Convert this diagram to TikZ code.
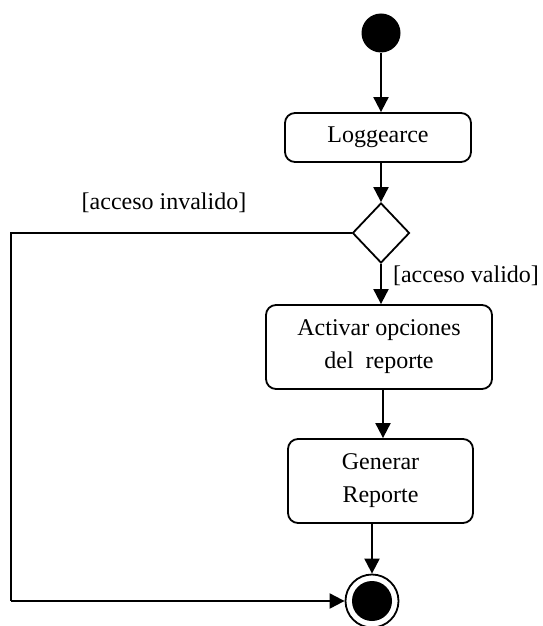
\documentclass[tikz,border=0pt]{standalone}
\usepackage{fontspec}
\setmainfont{Liberation Serif}
\usetikzlibrary{shapes.geometric,arrows.meta}
\begin{document}
\begin{tikzpicture}[x=0.5pt,y=-0.5pt,
  every node/.style={font=\fontsize{12}{16.5}\selectfont},
  actbox/.style={draw,rounded corners=5pt,line width=0.9pt,align=center,inner sep=0pt},
  flow/.style={line width=1pt,-{Triangle[length=7.5pt,width=7.5pt]}},
  plain/.style={line width=1pt}]
\useasboundingbox (0,0) rectangle (542,626);
\node[circle,fill=black,inner sep=0pt,minimum size=19.5pt] (start) at (381,33) {};
\node[actbox,minimum width=93pt,minimum height=24.5pt] (log) at (378,137.5) {Loggearce};
\node[diamond,draw,line width=0.9pt,inner sep=0pt,minimum width=28.5pt,minimum height=30pt] (dec) at (381,233) {};
\node[actbox,minimum width=113pt,minimum height=42pt] (act) at (379,347) {Activar opciones\\del~ reporte};
\node[actbox,minimum width=92.5pt,minimum height=42pt] (gen) at (380.5,481) {Generar\\Reporte};
\node[circle,draw,line width=0.9pt,fill=white,inner sep=0pt,minimum size=26.5pt] (endo) at (372,601) {};
\node[circle,fill=black,inner sep=0pt,minimum size=20pt] (endi) at (372,601) {};
\coordinate (c1) at (11,233);
\coordinate (c2) at (11,601);
\node (linv) at (164,203) {[acceso invalido]};
\node (lval) at (466,276) {[acceso valido]};
\draw[flow] (start.south) -- (start.south |- log.north);
\draw[flow] (dec.north |- log.south) -- (dec.north);
\draw[flow] (dec.south) -- (dec.south |- act.north);
\draw[flow] ([xshift=2pt]act.south) -- ([xshift=2pt]act.south |- gen.north);
\draw[flow] (endo.north |- gen.south) -- (endo.north);
\draw[plain] (dec.west) -- (c1) -- (c2);
\draw[flow] (c2) -- (endo.west);
\end{tikzpicture}
\end{document}
